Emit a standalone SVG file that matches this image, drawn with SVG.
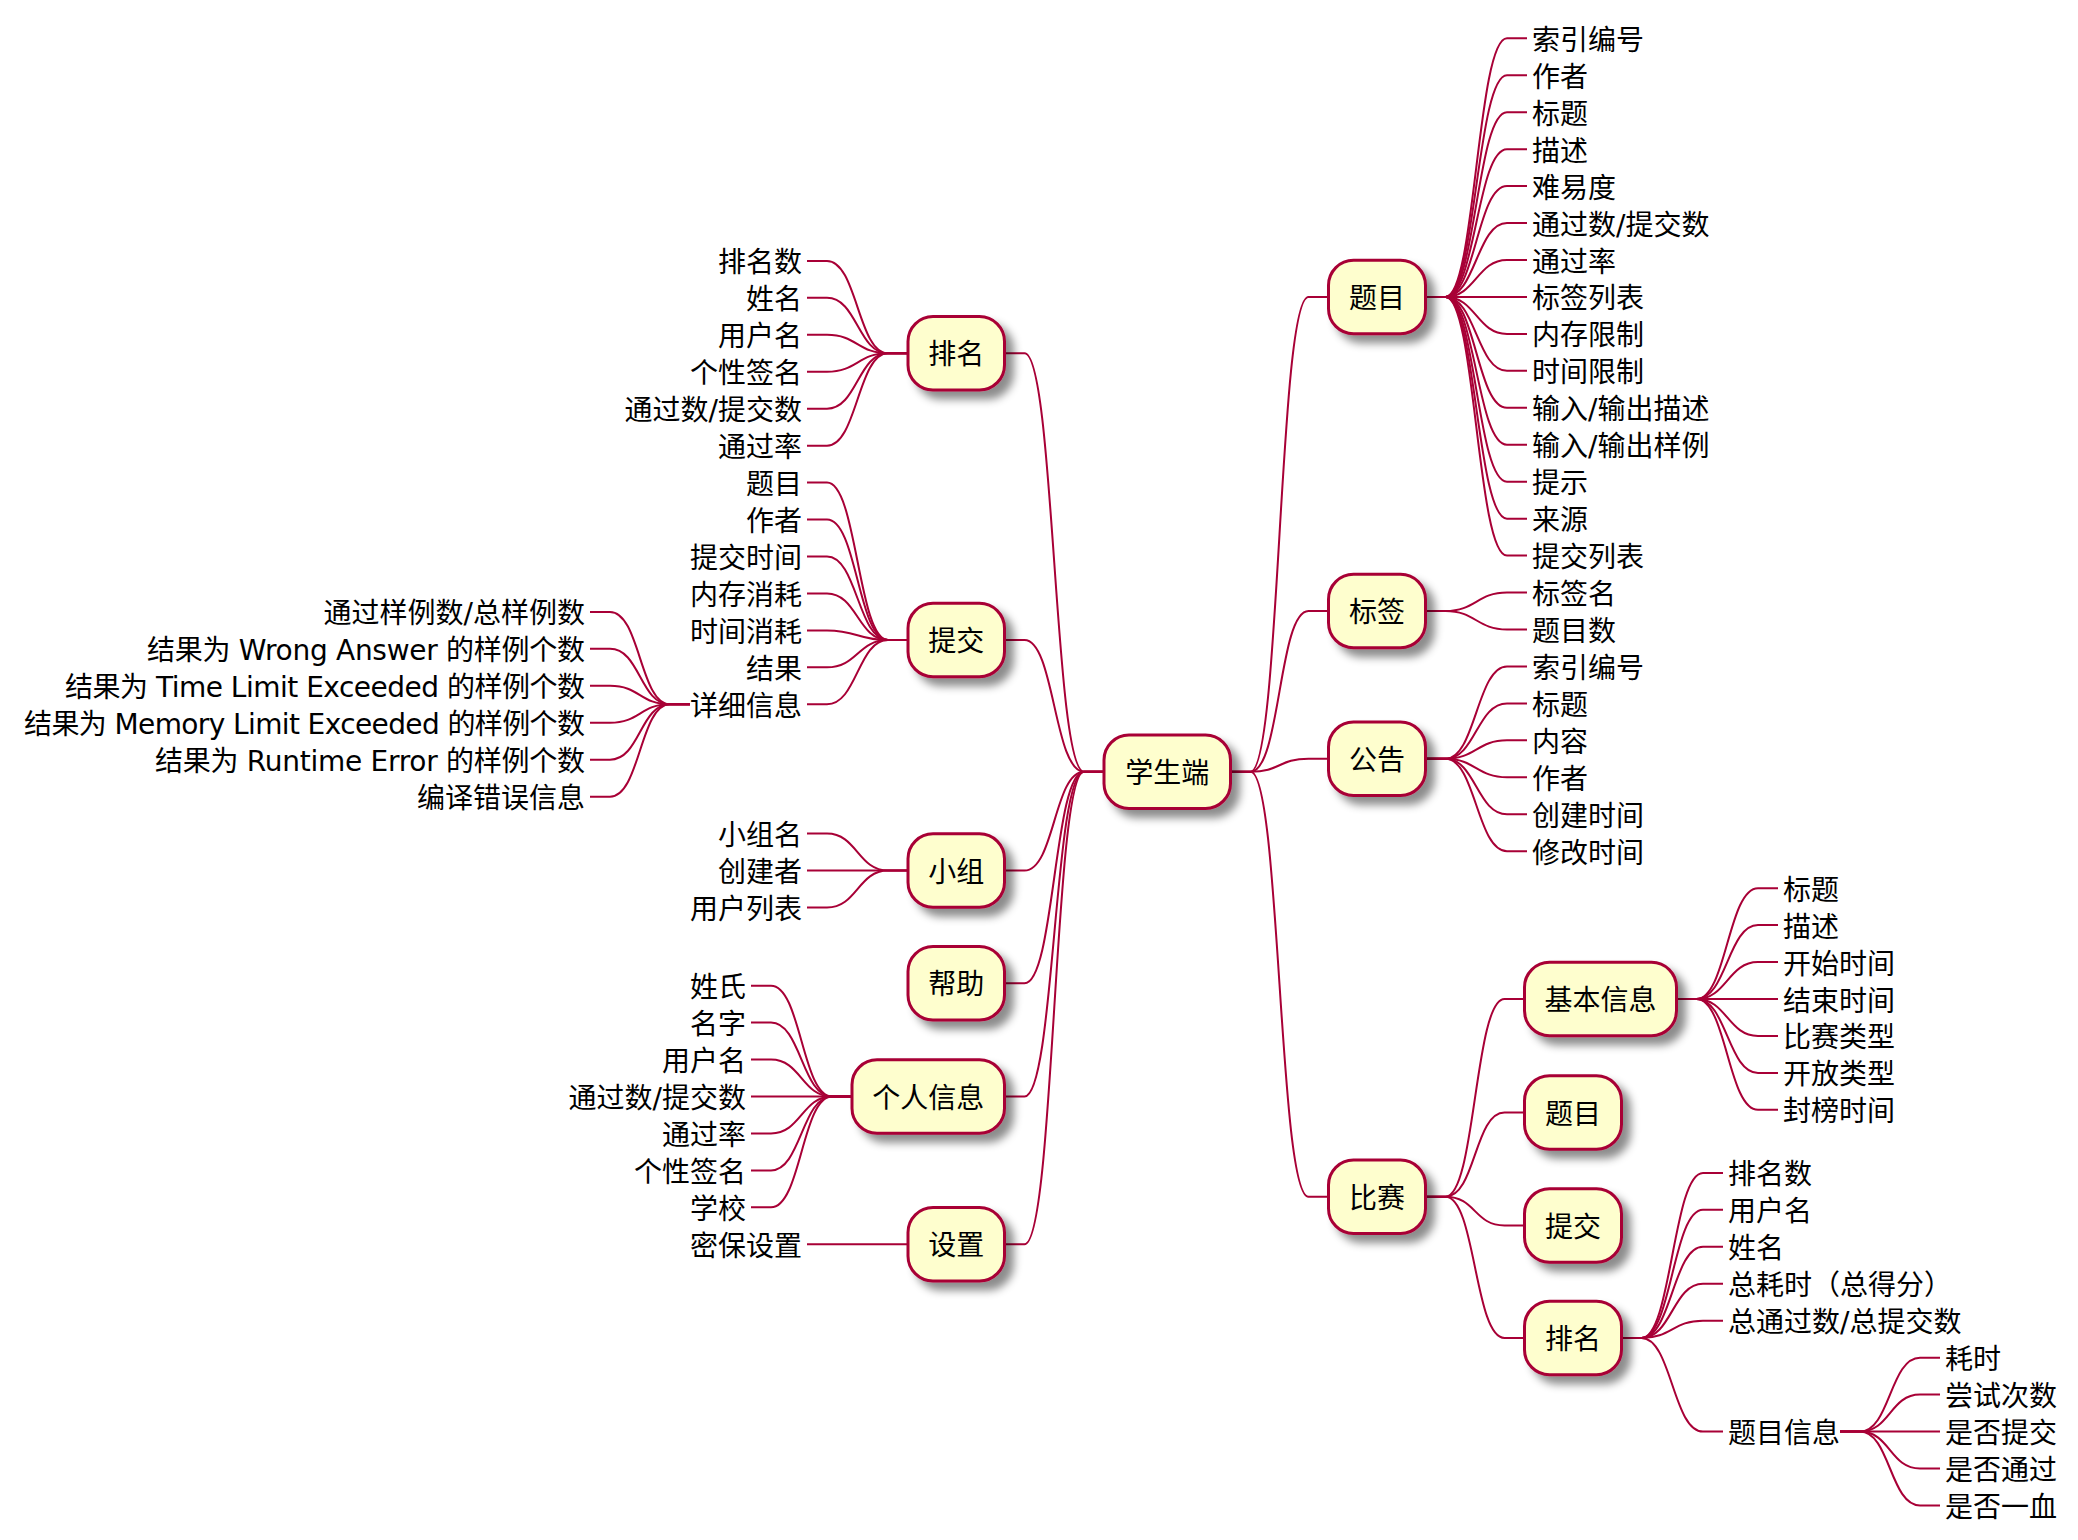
<svg xmlns="http://www.w3.org/2000/svg" width="2078" height="1540" viewBox="0 0 2078 1540">
<defs>
<filter id="sh" x="-20%" y="-20%" width="150%" height="160%">
<feGaussianBlur in="SourceAlpha" stdDeviation="4" result="b"/>
<feColorMatrix in="b" type="matrix" values="0 0 0 0 0  0 0 0 0 0  0 0 0 0 0  0 0 0 0.45 0" result="b2"/>
<feOffset in="b2" dx="8" dy="8" result="b3"/>
<feMerge><feMergeNode in="b3"/><feMergeNode in="SourceGraphic"/></feMerge>
</filter>
</defs>
<style>
.box{fill:#FEFECE;stroke:#A80036;stroke-width:3;filter:url(#sh)}
text{font-family:"DejaVu Sans","Noto Sans CJK SC",sans-serif;font-size:28px;fill:#000}
.m{text-anchor:middle}
.e{text-anchor:end}
.c path{fill:none;stroke:#A80036;stroke-width:2}
</style>
<rect width="2078" height="1540" fill="#FFFFFF"/>
<g class="c" id="connectors">
<path d="M1230.5 771.7H1250.5C1280.5 771.7 1278.5 296.95 1308.5 296.95H1328.5"/>
<path d="M1230.5 771.7H1250.5C1280.5 771.7 1278.5 611 1308.5 611H1328.5"/>
<path d="M1230.5 771.7H1250.5C1280.5 771.7 1278.5 758.8 1308.5 758.8H1328.5"/>
<path d="M1230.5 771.7H1250.5C1280.5 771.7 1278.5 1196.7 1308.5 1196.7H1328.5"/>
<path d="M1425.5 296.95H1445.5C1475.5 296.95 1477 38.3 1507 38.3H1527"/>
<path d="M1425.5 296.95H1445.5C1475.5 296.95 1477 75.25 1507 75.25H1527"/>
<path d="M1425.5 296.95H1445.5C1475.5 296.95 1477 112.2 1507 112.2H1527"/>
<path d="M1425.5 296.95H1445.5C1475.5 296.95 1477 149.15 1507 149.15H1527"/>
<path d="M1425.5 296.95H1445.5C1475.5 296.95 1477 186.1 1507 186.1H1527"/>
<path d="M1425.5 296.95H1445.5C1475.5 296.95 1477 223.05 1507 223.05H1527"/>
<path d="M1425.5 296.95H1445.5C1475.5 296.95 1477 260 1507 260H1527"/>
<path d="M1425.5 296.95H1527"/>
<path d="M1425.5 296.95H1445.5C1475.5 296.95 1477 333.9 1507 333.9H1527"/>
<path d="M1425.5 296.95H1445.5C1475.5 296.95 1477 370.85 1507 370.85H1527"/>
<path d="M1425.5 296.95H1445.5C1475.5 296.95 1477 407.8 1507 407.8H1527"/>
<path d="M1425.5 296.95H1445.5C1475.5 296.95 1477 444.75 1507 444.75H1527"/>
<path d="M1425.5 296.95H1445.5C1475.5 296.95 1477 481.7 1507 481.7H1527"/>
<path d="M1425.5 296.95H1445.5C1475.5 296.95 1477 518.65 1507 518.65H1527"/>
<path d="M1425.5 296.95H1445.5C1475.5 296.95 1477 555.6 1507 555.6H1527"/>
<path d="M1425.5 611H1445.5C1475.5 611 1477 592.55 1507 592.55H1527"/>
<path d="M1425.5 611H1445.5C1475.5 611 1477 629.5 1507 629.5H1527"/>
<path d="M1425.5 758.8H1445.5C1475.5 758.8 1477 666.45 1507 666.45H1527"/>
<path d="M1425.5 758.8H1445.5C1475.5 758.8 1477 703.4 1507 703.4H1527"/>
<path d="M1425.5 758.8H1445.5C1475.5 758.8 1477 740.35 1507 740.35H1527"/>
<path d="M1425.5 758.8H1445.5C1475.5 758.8 1477 777.3 1507 777.3H1527"/>
<path d="M1425.5 758.8H1445.5C1475.5 758.8 1477 814.25 1507 814.25H1527"/>
<path d="M1425.5 758.8H1445.5C1475.5 758.8 1477 851.2 1507 851.2H1527"/>
<path d="M1425.5 1196.7H1445.5C1475.5 1196.7 1474.5 999 1504.5 999H1524.5"/>
<path d="M1425.5 1196.7H1445.5C1475.5 1196.7 1474.5 1112.5 1504.5 1112.5H1524.5"/>
<path d="M1425.5 1196.7H1445.5C1475.5 1196.7 1474.5 1225.5 1504.5 1225.5H1524.5"/>
<path d="M1425.5 1196.7H1445.5C1475.5 1196.7 1474.5 1338 1504.5 1338H1524.5"/>
<path d="M1676.5 999H1696.5C1726.5 999 1728 888.15 1758 888.15H1778"/>
<path d="M1676.5 999H1696.5C1726.5 999 1728 925.1 1758 925.1H1778"/>
<path d="M1676.5 999H1696.5C1726.5 999 1728 962.05 1758 962.05H1778"/>
<path d="M1676.5 999H1778"/>
<path d="M1676.5 999H1696.5C1726.5 999 1728 1035.95 1758 1035.95H1778"/>
<path d="M1676.5 999H1696.5C1726.5 999 1728 1072.9 1758 1072.9H1778"/>
<path d="M1676.5 999H1696.5C1726.5 999 1728 1109.85 1758 1109.85H1778"/>
<path d="M1621.5 1338H1641.5C1671.5 1338 1673 1172.9 1703 1172.9H1723"/>
<path d="M1621.5 1338H1641.5C1671.5 1338 1673 1209.85 1703 1209.85H1723"/>
<path d="M1621.5 1338H1641.5C1671.5 1338 1673 1246.8 1703 1246.8H1723"/>
<path d="M1621.5 1338H1641.5C1671.5 1338 1673 1283.75 1703 1283.75H1723"/>
<path d="M1621.5 1338H1641.5C1671.5 1338 1673 1320.7 1703 1320.7H1723"/>
<path d="M1621.5 1338H1641.5C1671.5 1338 1673 1431.55 1703 1431.55H1723"/>
<path d="M1840 1431.55H1860C1890 1431.55 1890 1357.65 1920 1357.65H1940"/>
<path d="M1840 1431.55H1860C1890 1431.55 1890 1394.6 1920 1394.6H1940"/>
<path d="M1840 1431.55H1940"/>
<path d="M1840 1431.55H1860C1890 1431.55 1890 1468.5 1920 1468.5H1940"/>
<path d="M1840 1431.55H1860C1890 1431.55 1890 1505.45 1920 1505.45H1940"/>
<path d="M1104 771.7H1084C1054 771.7 1054.5 353.3 1024.5 353.3H1004.5"/>
<path d="M1104 771.7H1084C1054 771.7 1054.5 640 1024.5 640H1004.5"/>
<path d="M1104 771.7H1084C1054 771.7 1054.5 870.55 1024.5 870.55H1004.5"/>
<path d="M1104 771.7H1084C1054 771.7 1054.5 983.3 1024.5 983.3H1004.5"/>
<path d="M1104 771.7H1084C1054 771.7 1054.5 1096.5 1024.5 1096.5H1004.5"/>
<path d="M1104 771.7H1084C1054 771.7 1054.5 1244.3 1024.5 1244.3H1004.5"/>
<path d="M908 353.3H888C858 353.3 857 260.9 827 260.9H807"/>
<path d="M908 353.3H888C858 353.3 857 297.85 827 297.85H807"/>
<path d="M908 353.3H888C858 353.3 857 334.8 827 334.8H807"/>
<path d="M908 353.3H888C858 353.3 857 371.75 827 371.75H807"/>
<path d="M908 353.3H888C858 353.3 857 408.7 827 408.7H807"/>
<path d="M908 353.3H888C858 353.3 857 445.65 827 445.65H807"/>
<path d="M908 640H888C858 640 857 482.6 827 482.6H807"/>
<path d="M908 640H888C858 640 857 519.55 827 519.55H807"/>
<path d="M908 640H888C858 640 857 556.5 827 556.5H807"/>
<path d="M908 640H888C858 640 857 593.45 827 593.45H807"/>
<path d="M908 640H888C858 640 857 630.4 827 630.4H807"/>
<path d="M908 640H888C858 640 857 667.35 827 667.35H807"/>
<path d="M908 640H888C858 640 857 704.3 827 704.3H807"/>
<path d="M690 704.3H670C640 704.3 640 611.9 610 611.9H590"/>
<path d="M690 704.3H670C640 704.3 640 648.85 610 648.85H590"/>
<path d="M690 704.3H670C640 704.3 640 685.8 610 685.8H590"/>
<path d="M690 704.3H670C640 704.3 640 722.75 610 722.75H590"/>
<path d="M690 704.3H670C640 704.3 640 759.7 610 759.7H590"/>
<path d="M690 704.3H670C640 704.3 640 796.65 610 796.65H590"/>
<path d="M908 870.55H888C858 870.55 857 833.6 827 833.6H807"/>
<path d="M908 870.55H807"/>
<path d="M908 870.55H888C858 870.55 857 907.5 827 907.5H807"/>
<path d="M852 1096.5H832C802 1096.5 801 985.65 771 985.65H751"/>
<path d="M852 1096.5H832C802 1096.5 801 1022.6 771 1022.6H751"/>
<path d="M852 1096.5H832C802 1096.5 801 1059.55 771 1059.55H751"/>
<path d="M852 1096.5H751"/>
<path d="M852 1096.5H832C802 1096.5 801 1133.45 771 1133.45H751"/>
<path d="M852 1096.5H832C802 1096.5 801 1170.4 771 1170.4H751"/>
<path d="M852 1096.5H832C802 1096.5 801 1207.35 771 1207.35H751"/>
<path d="M908 1244.3H807"/>
</g>
<g id="root"><rect class="box" x="1104" y="735" width="126.5" height="73.4" rx="25"/><text class="m" x="1167.2" y="782.7">学生端</text></g>
<g id="n-timu"><rect class="box" x="1328.5" y="260.25" width="97" height="73.4" rx="25"/><text class="m" x="1377" y="307.9">题目</text></g>
<g id="n-timu-leaves">
<text x="1532" y="49.8">索引编号</text>
<text x="1532" y="86.75">作者</text>
<text x="1532" y="123.7">标题</text>
<text x="1532" y="160.65">描述</text>
<text x="1532" y="197.6">难易度</text>
<text x="1532" y="234.55">通过数/提交数</text>
<text x="1532" y="271.5">通过率</text>
<text x="1532" y="308.45">标签列表</text>
<text x="1532" y="345.4">内存限制</text>
<text x="1532" y="382.35">时间限制</text>
<text x="1532" y="419.3">输入/输出描述</text>
<text x="1532" y="456.25">输入/输出样例</text>
<text x="1532" y="493.2">提示</text>
<text x="1532" y="530.15">来源</text>
<text x="1532" y="567.1">提交列表</text>
</g>
<g id="n-biaoqian"><rect class="box" x="1328.5" y="574.3" width="97" height="73.4" rx="25"/><text class="m" x="1377" y="622">标签</text></g>
<g id="n-biaoqian-leaves">
<text x="1532" y="604.05">标签名</text>
<text x="1532" y="641">题目数</text>
</g>
<g id="n-gonggao"><rect class="box" x="1328.5" y="722.1" width="97" height="73.4" rx="25"/><text class="m" x="1377" y="769.8">公告</text></g>
<g id="n-gonggao-leaves">
<text x="1532" y="677.95">索引编号</text>
<text x="1532" y="714.9">标题</text>
<text x="1532" y="751.85">内容</text>
<text x="1532" y="788.8">作者</text>
<text x="1532" y="825.75">创建时间</text>
<text x="1532" y="862.7">修改时间</text>
</g>
<g id="n-bisai"><rect class="box" x="1328.5" y="1160" width="97" height="73.4" rx="25"/><text class="m" x="1377" y="1207.7">比赛</text></g>
<g id="n-jiben"><rect class="box" x="1524.5" y="962.3" width="152" height="73.4" rx="25"/><text class="m" x="1600.5" y="1010">基本信息</text></g>
<g id="n-jiben-leaves">
<text x="1783" y="899.65">标题</text>
<text x="1783" y="936.6">描述</text>
<text x="1783" y="973.55">开始时间</text>
<text x="1783" y="1010.5">结束时间</text>
<text x="1783" y="1047.45">比赛类型</text>
<text x="1783" y="1084.4">开放类型</text>
<text x="1783" y="1121.35">封榜时间</text>
</g>
<g id="n-bisai-timu"><rect class="box" x="1524.5" y="1075.8" width="97" height="73.4" rx="25"/><text class="m" x="1573" y="1123.5">题目</text></g>
<g id="n-bisai-tijiao"><rect class="box" x="1524.5" y="1188.8" width="97" height="73.4" rx="25"/><text class="m" x="1573" y="1236.5">提交</text></g>
<g id="n-bisai-paiming"><rect class="box" x="1524.5" y="1301.3" width="97" height="73.4" rx="25"/><text class="m" x="1573" y="1349">排名</text></g>
<g id="n-bisai-paiming-leaves">
<text x="1728" y="1184.4">排名数</text>
<text x="1728" y="1221.35">用户名</text>
<text x="1728" y="1258.3">姓名</text>
<text x="1728" y="1295.25">总耗时（总得分）</text>
<text x="1728" y="1332.2">总通过数/总提交数</text>
<text x="1728" y="1443.05">题目信息</text>
</g>
<g id="n-timuxinxi-leaves">
<text x="1945" y="1369.15">耗时</text>
<text x="1945" y="1406.1">尝试次数</text>
<text x="1945" y="1443.05">是否提交</text>
<text x="1945" y="1480">是否通过</text>
<text x="1945" y="1516.95">是否一血</text>
</g>
<g id="n-paiming"><rect class="box" x="908" y="316.6" width="96.5" height="73.4" rx="25"/><text class="m" x="956.2" y="364.3">排名</text></g>
<g id="n-paiming-leaves">
<text class="e" x="802" y="272.4">排名数</text>
<text class="e" x="802" y="309.35">姓名</text>
<text class="e" x="802" y="346.3">用户名</text>
<text class="e" x="802" y="383.25">个性签名</text>
<text class="e" x="802" y="420.2">通过数/提交数</text>
<text class="e" x="802" y="457.15">通过率</text>
</g>
<g id="n-tijiao"><rect class="box" x="908" y="603.3" width="96.5" height="73.4" rx="25"/><text class="m" x="956.2" y="651">提交</text></g>
<g id="n-tijiao-leaves">
<text class="e" x="802" y="494.1">题目</text>
<text class="e" x="802" y="531.05">作者</text>
<text class="e" x="802" y="568">提交时间</text>
<text class="e" x="802" y="604.95">内存消耗</text>
<text class="e" x="802" y="641.9">时间消耗</text>
<text class="e" x="802" y="678.85">结果</text>
<text class="e" x="802" y="715.8">详细信息</text>
</g>
<g id="n-xiangxi-leaves">
<text class="e" x="585" y="623.4">通过样例数/总样例数</text>
<text class="e" x="585" y="660.35" textLength="438">结果为 Wrong Answer 的样例个数</text>
<text class="e" x="585" y="697.3" textLength="520">结果为 Time Limit Exceeded 的样例个数</text>
<text class="e" x="585" y="734.25" textLength="561">结果为 Memory Limit Exceeded 的样例个数</text>
<text class="e" x="585" y="771.2" textLength="430">结果为 Runtime Error 的样例个数</text>
<text class="e" x="585" y="808.15">编译错误信息</text>
</g>
<g id="n-xiaozu"><rect class="box" x="908" y="833.85" width="96.5" height="73.4" rx="25"/><text class="m" x="956.2" y="881.55">小组</text></g>
<g id="n-xiaozu-leaves">
<text class="e" x="802" y="845.1">小组名</text>
<text class="e" x="802" y="882.05">创建者</text>
<text class="e" x="802" y="919">用户列表</text>
</g>
<g id="n-bangzhu"><rect class="box" x="908" y="946.6" width="96.5" height="73.4" rx="25"/><text class="m" x="956.2" y="994.3">帮助</text></g>
<g id="n-geren"><rect class="box" x="852" y="1059.8" width="152.5" height="73.4" rx="25"/><text class="m" x="928.2" y="1107.5">个人信息</text></g>
<g id="n-geren-leaves">
<text class="e" x="746" y="997.15">姓氏</text>
<text class="e" x="746" y="1034.1">名字</text>
<text class="e" x="746" y="1071.05">用户名</text>
<text class="e" x="746" y="1108">通过数/提交数</text>
<text class="e" x="746" y="1144.95">通过率</text>
<text class="e" x="746" y="1181.9">个性签名</text>
<text class="e" x="746" y="1218.85">学校</text>
</g>
<g id="n-shezhi"><rect class="box" x="908" y="1207.6" width="96.5" height="73.4" rx="25"/><text class="m" x="956.2" y="1255.3">设置</text></g>
<g id="n-shezhi-leaves">
<text class="e" x="802" y="1255.8">密保设置</text>
</g>
</svg>
